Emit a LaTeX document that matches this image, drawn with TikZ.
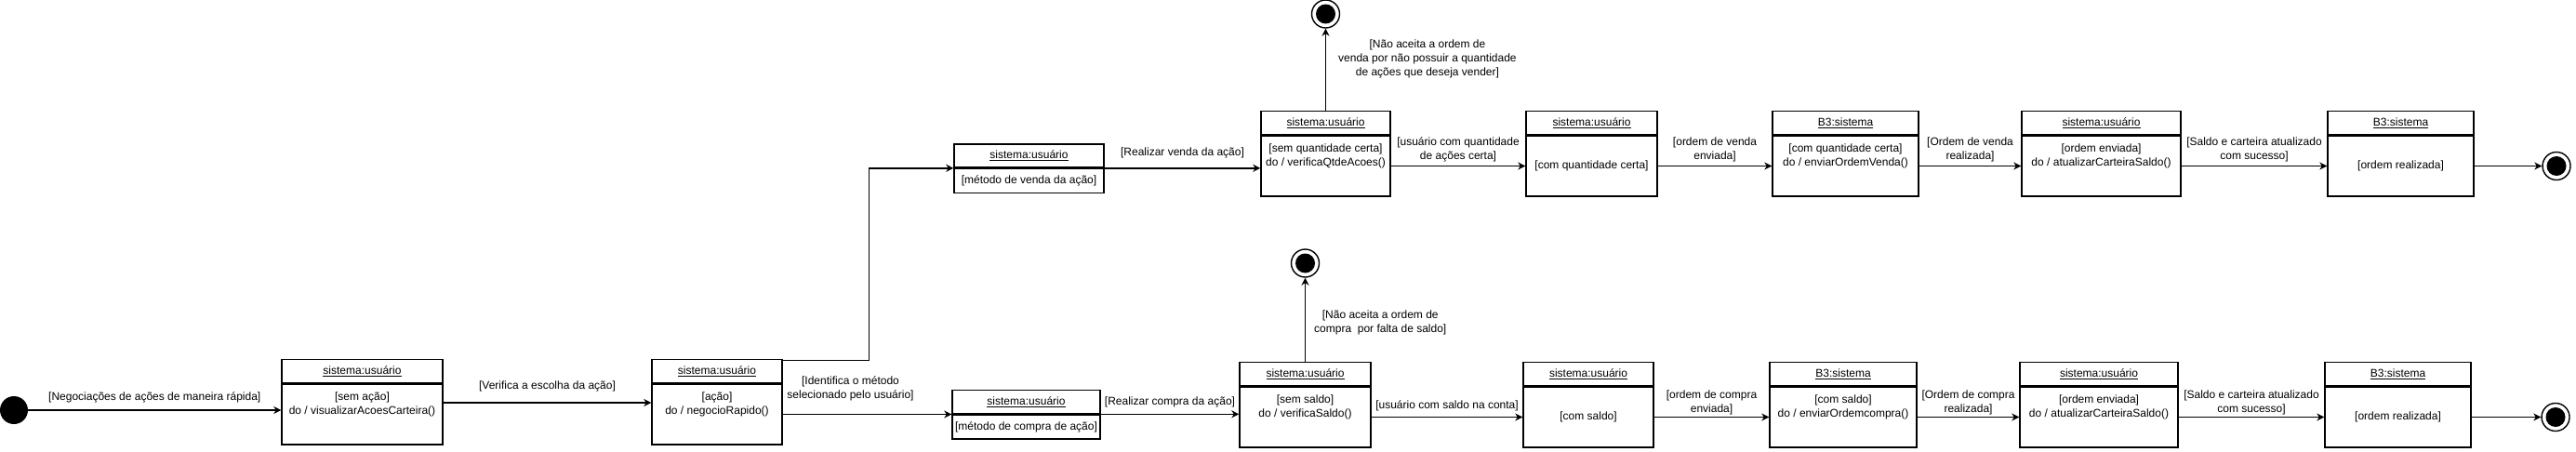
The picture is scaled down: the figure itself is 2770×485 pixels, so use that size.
\documentclass[tikz,border=0pt]{standalone}
\usepackage{fontspec}
\setmainfont{Liberation Sans}
\usetikzlibrary{arrows.meta, positioning}
\newcommand{\ftext}{\fontsize{12pt}{15pt}\selectfont}
\newcommand{\twoline}[2]{\raisebox{11pt}[\height][\depth]{\begin{tabular}{@{}c@{}}#1\\#2\end{tabular}}}
\tikzset{
	state/.style  ={rectangle, draw=black, line width=1.4pt, minimum height=65pt, inner sep=2pt, font=\ftext},
	hdr/.style    ={rectangle, draw=black, line width=1.4pt, minimum height=25pt, inner sep=0pt, anchor=south, font=\ftext},
	usr/.style    ={state, minimum width=#1, label={[hdr, minimum width=#1]north:{\underline{sistema:usuário}}}},
	bts/.style    ={state, minimum width=#1, label={[hdr, minimum width=#1]north:{\underline{B3:sistema}}}},
	small/.style  ={minimum height=26pt},
	% start and end states
	initial/.style={circle, fill=black, minimum size=30pt, inner sep=0pt},
	final/.style  ={circle, draw=black, line width=1.4pt, minimum size=30pt, inner sep=0pt,
		path picture={\fill[black] (path picture bounding box.center) circle (10.5pt);}},
	trans/.style  ={-{Stealth[length=8pt, width=8pt, inset=2.5pt]}, line width=1.4pt},
	lbl/.style    ={font=\ftext, align=center, inner sep=1pt},
}
\begin{document}
\begin{tikzpicture}[x=1pt, y=-1pt]
	\useasboundingbox (0,0) rectangle (2770,485);
	% escolha da acao
	\node[initial] (ini) at (15,441) {};
	\node[usr=173pt] (acao0) at (389.5,445.5) {\twoline{[sem ação]}{do / visualizarAcoesCarteira()}};
	\node[usr=140pt] (acao) at (771,445.5) {\twoline{[ação]}{do / negocioRapido()}};
	\node[usr=161pt, small] (venda) at (1106.5,194.5) {[método de venda da ação]};
	\node[usr=159pt, small] (compra) at (1103.5,459) {[método de compra de ação]};
	% venda
	\node[usr=139pt] (vqtd) at (1425.5,178.5) {\twoline{[sem quantidade certa]}{do / verificaQtdeAcoes()}};
	\node[usr=141pt, right=144.6pt of vqtd] (vcerta) {[com quantidade certa]};
	\node[bts=157pt, right=122.6pt of vcerta] (venvia) {\twoline{[com quantidade certa]}{do / enviarOrdemVenda()}};
	\node[usr=171pt, right=109.6pt of venvia] (vatual) {\twoline{[ordem enviada]}{do / atualizarCarteiraSaldo()}};
	\node[bts=157pt, right=156.6pt of vatual] (vfim) {[ordem realizada]};
	\node[final, right=72.6pt of vfim] (vend) {};
	\node[final] (vrecusa) at (1425.5,15) {};
	% compra
	\node[usr=141pt] (csaldo) at (1403.5,448.5) {\twoline{[sem saldo]}{do / verificaSaldo()}};
	\node[usr=140pt, right=162.6pt of csaldo] (ccom) {[com saldo]};
	\node[bts=158pt, right=123.6pt of ccom] (cenvia) {\twoline{[com saldo]}{do / enviarOrdemcompra()}};
	\node[usr=170pt, right=109.6pt of cenvia] (catual) {\twoline{[ordem enviada]}{do / atualizarCarteiraSaldo()}};
	\node[bts=157pt, right=156.6pt of catual] (cfim) {[ordem realizada]};
	\node[final, right=74.6pt of cfim] (cend) {};
	\node[final] (crecusa) at (1403.5,283) {};
	% transicoes
	\draw[trans] (ini) -- (ini -| acao0.west) node[lbl, midway, yshift=14pt] {[Negociações de ações de maneira rápida]};
	\draw[trans] ([yshift=12.5pt]acao0.east) -- ([yshift=12.5pt]acao.west) node[lbl, midway, yshift=18pt] {[Verifica a escolha da ação]};
	\draw[trans] ([yshift=25pt]acao.north east) -- ++(93,0) |- (venda.north west);
	\draw[trans] (acao.east) -- (acao.east -| compra.west) node[lbl, midway, xshift=-18pt, yshift=28pt] {[Identifica o método\\selecionado pelo usuário]};
	\draw[trans] (venda.north east) -- (venda.north east -| vqtd.west) node[lbl, midway, yshift=16.5pt] {[Realizar venda da ação]};
	\draw[trans] (compra.north east) -- (compra.north east -| csaldo.west) node[lbl, midway, yshift=13pt] {[Realizar compra da ação]};
	% ramo de venda
	\draw[trans] ([yshift=25pt]vqtd.north) -- (vrecusa) node[lbl, pos=0.64, right=12pt] {[Não aceita a ordem de\\venda por não possuir a quantidade\\de ações que deseja vender]};
	\draw[trans] (vqtd) -- (vcerta) node[lbl, midway, yshift=18pt] {[usuário com quantidade\\de ações certa]};
	\draw[trans] (vcerta) -- (venvia) node[lbl, midway, yshift=18pt] {[ordem de venda\\enviada]};
	\draw[trans] (venvia) -- (vatual) node[lbl, midway, yshift=18pt] {[Ordem de venda\\realizada]};
	\draw[trans] (vatual) -- (vfim) node[lbl, midway, yshift=18pt] {[Saldo e carteira atualizado\\com sucesso]};
	\draw[trans] (vfim) -- (vend);
	% ramo de compra
	\draw[trans] ([yshift=25pt]csaldo.north) -- (crecusa) node[lbl, pos=0.47, right=8pt] {[Não aceita a ordem de\\compra~ por falta de saldo]};
	\draw[trans] (csaldo) -- (ccom) node[lbl, midway, yshift=12pt] {[usuário com saldo na conta]};
	\draw[trans] (ccom) -- (cenvia) node[lbl, midway, yshift=16pt] {[ordem de compra\\enviada]};
	\draw[trans] (cenvia) -- (catual) node[lbl, midway, yshift=16pt] {[Ordem de compra\\realizada]};
	\draw[trans] (catual) -- (cfim) node[lbl, midway, yshift=16pt] {[Saldo e carteira atualizado\\com sucesso]};
	\draw[trans] (cfim) -- (cend);
\end{tikzpicture}
\end{document}
